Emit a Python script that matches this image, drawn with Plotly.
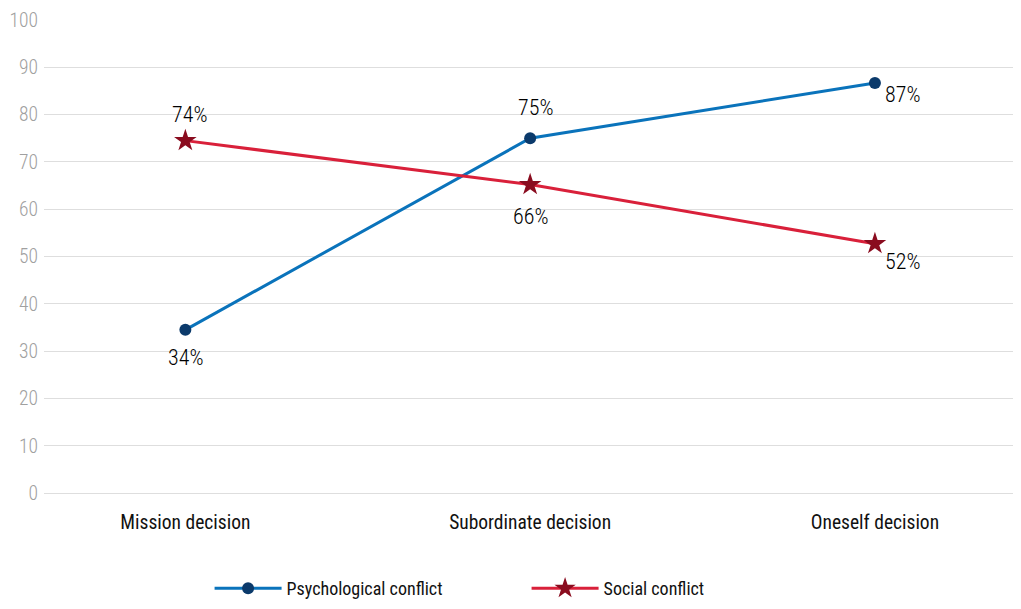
import plotly.graph_objects as go

FONT = "Roboto Condensed, Liberation Sans Narrow, sans-serif"
BLUE_LINE = "#0a73bb"
BLUE_MARK = "#0b3a6b"
RED_LINE = "#d9203a"
RED_MARK = "#8a0c1f"
GRID = "#dedede"

categories = ["Mission decision", "Subordinate decision", "Oneself decision"]
psych = [34.5, 75.0, 86.7]
social = [74.5, 65.2, 52.7]
psych_labels = ["34%", "75%", "87%"]
social_labels = ["74%", "66%", "52%"]
# label offsets in px (x, y) relative to the point
psych_off = [(0, -28), (5, 31), (28, -12)]
social_off = [(4, 26), (0, -32), (28, -18)]

fig = go.Figure()
fig.add_trace(go.Scatter(
    x=categories, y=psych, name="Psychological conflict",
    mode="lines+markers",
    line=dict(color=BLUE_LINE, width=3),
    marker=dict(color=BLUE_MARK, size=12, symbol="circle")))
fig.add_trace(go.Scatter(
    x=categories, y=social, name="Social conflict",
    mode="lines+markers",
    line=dict(color=RED_LINE, width=3),
    marker=dict(color=RED_MARK, size=17, symbol="star")))

for xs, ys, labels, offs in [(categories, psych, psych_labels, psych_off),
                             (categories, social, social_labels, social_off)]:
    for x, y, t, (dx, dy) in zip(xs, ys, labels, offs):
        fig.add_annotation(x=x, y=y, text=t, showarrow=False,
                           xshift=dx, yshift=dy,
                           font=dict(size=22, color="#000", weight=300))

fig.update_layout(
    width=1021, height=609,
    paper_bgcolor="white", plot_bgcolor="white",
    font=dict(family=FONT, color="#111", size=20),
    margin=dict(l=36, r=11, t=12, b=124, autoexpand=False),
    showlegend=True,
    legend=dict(orientation="h", x=0.17, xanchor="left", y=-0.163, yanchor="top",
                font=dict(size=18, color="#111"), itemwidth=67,
                entrywidthmode="pixels", entrywidth=235),
    xaxis=dict(type="category", range=[-0.41, 2.415], showgrid=False,
               showline=False, zeroline=False, ticks="", automargin=False,
               ticklabelstandoff=15,
               tickfont=dict(size=19.5, color="#111")),
    yaxis=dict(range=[0, 100], dtick=10, gridcolor=GRID, gridwidth=1,
               zeroline=True, zerolinecolor=GRID, zerolinewidth=1,
               showline=False, ticks="", ticklabelstandoff=5, automargin=False,
               tickfont=dict(size=19.5, color="#a0a0a0", weight=300)),
)

fig.write_html("out.html")
